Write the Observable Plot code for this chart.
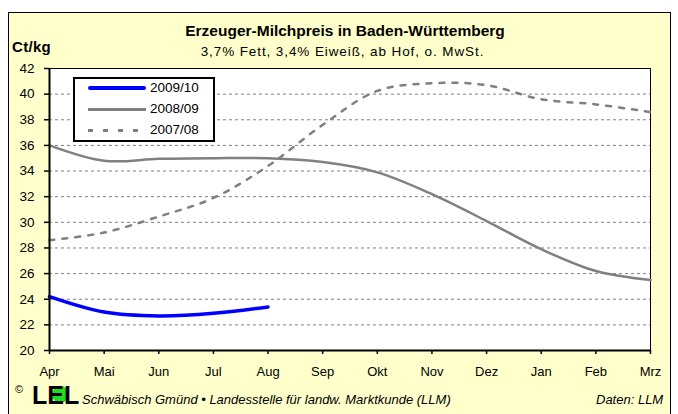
<!DOCTYPE html>
<html><head><meta charset="utf-8">
<script src="https://cdn.jsdelivr.net/npm/d3@7"></script>
<script src="https://cdn.jsdelivr.net/npm/@observablehq/plot@0.6"></script>
<style>
  html,body{margin:0;padding:0;background:#fff;}
  body{width:678px;height:414px;position:relative;overflow:hidden;font-family:"Liberation Sans",Arial,sans-serif;}
  #frame{position:absolute;left:8px;top:12px;width:663px;height:430px;border:1px solid #000;background:#FFFFCC;box-sizing:border-box;}
  #chart{position:absolute;left:0;top:0;}
  .t{position:absolute;white-space:nowrap;color:#000;line-height:1;}
  #title{left:0;width:690px;text-align:center;top:23px;font-weight:bold;font-size:15.5px;}
  #sub{left:0;width:685px;text-align:center;top:45px;font-size:13.5px;letter-spacing:0.9px;}
  #unit{left:12px;top:39px;font-weight:bold;font-size:15px;letter-spacing:0.3px;}
  #legend{position:absolute;left:73px;top:77px;width:142px;height:65px;border:2px solid #000;background:#fff;box-sizing:border-box;}
  .li{position:absolute;left:13px;height:16px;width:130px;}
  .sw{position:absolute;left:0;top:8px;width:58px;height:0;}
  .lb{position:absolute;left:62px;top:0;font-size:13.5px;line-height:16px;}
  #cap{left:82px;top:393px;font-style:italic;font-size:13px;}
  #src{left:596px;top:393px;font-style:italic;font-size:13px;}
  #copy{left:15px;top:384px;font-size:11px;}
  #logo{left:32px;top:382px;font-weight:bold;font-size:25px;line-height:26px;z-index:1;}
  #logo .e{position:relative;display:inline-block;}
  #logo .e::after{content:"";position:absolute;left:5px;top:4px;width:17px;height:17px;border-radius:50%;background:#1fdc1f;z-index:-1;}
</style>
</head><body>
<div id="frame"></div>
<div id="chart"></div>
<div class="t" id="title">Erzeuger-Milchpreis in Baden-Württemberg</div>
<div class="t" id="sub">3,7% Fett, 3,4% Eiweiß, ab Hof, o. MwSt.</div>
<div class="t" id="unit">Ct/kg</div>
<div id="legend"></div>
<div class="t" id="copy">©</div>
<div class="t" id="logo">L<span class="e">E</span>L</div>
<div class="t" id="cap">Schwäbisch Gmünd • Landesstelle für landw. Marktkunde (LLM)</div>
<div class="t" id="src">Daten: LLM</div>
<script>
const months = ["Apr","Mai","Jun","Jul","Aug","Sep","Okt","Nov","Dez","Jan","Feb","Mrz"];
const series = ["2009/10","2008/09","2007/08"];
const p2009 = [24.2, 23.0, 22.7, 22.9, 23.4];
const p2008 = [36.0, 34.8, 34.95, 35.0, 35.0, 34.7, 33.9, 32.2, 30.1, 27.9, 26.2, 25.5];
const p2007 = [28.6, 29.2, 30.45, 31.9, 34.4, 37.6, 40.25, 40.85, 40.7, 39.6, 39.2, 38.6];
const yTicks = [20,22,24,26,28,30,32,34,36,38,40,42];
const gridVals = [22,24,26,28,30,32,34,36,38,40];

const rows = (arr, s) => arr.map((v, i) => ({m: i, v, s}));
const d2009 = rows(p2009, series[0]);
const d2008 = rows(p2008, series[1]);
const d2007 = rows(p2007, series[2]);

const styles = {
  "2009/10": {stroke: "#0000ff", strokeWidth: 3.5, dash: null},
  "2008/09": {stroke: "#808080", strokeWidth: 2.5, dash: null},
  "2007/08": {stroke: "#808080", strokeWidth: 2.5, dash: "5,8"}
};

const chart = Plot.plot({
  width: 678, height: 414,
  marginLeft: 49, marginRight: 28, marginTop: 68, marginBottom: 64,
  x: {domain: [0, 11]},
  y: {domain: [20, 42]},
  style: {background: "transparent", fontFamily: "'Liberation Sans', Arial, sans-serif", fontSize: "13.5px", color: "#000"},
  marks: [
    Plot.frame({fill: "white", stroke: "black", strokeWidth: 1}),
    Plot.ruleY(gridVals, {stroke: "#808080", strokeDasharray: "3,3", strokeWidth: 1}),
    Plot.line(d2008, {x: "m", y: "v", stroke: styles["2008/09"].stroke, strokeWidth: styles["2008/09"].strokeWidth, curve: "catmull-rom"}),
    Plot.line(d2007, {x: "m", y: "v", stroke: styles["2007/08"].stroke, strokeWidth: styles["2007/08"].strokeWidth, strokeDasharray: styles["2007/08"].dash, curve: "catmull-rom"}),
    Plot.line(d2009, {x: "m", y: "v", stroke: styles["2009/10"].stroke, strokeWidth: styles["2009/10"].strokeWidth, curve: "catmull-rom"}),
    Plot.axisY(yTicks, {tickSize: 5, tickPadding: 10, label: null, stroke: "black", strokeWidth: 1.5, fill: "black"}),
    Plot.axisX(d3.range(12), {tickSize: 4, tickPadding: 12, label: null, tickFormat: i => months[i], stroke: "black", strokeWidth: 1.5, fill: "black", fontSize: "13px"}),
    Plot.ruleX([0], {stroke: "black", strokeWidth: 2}),
    Plot.ruleY([20], {stroke: "black", strokeWidth: 2})
  ]
});
document.getElementById("chart").appendChild(chart);

const legend = document.getElementById("legend");
series.forEach((s, k) => {
  const st = styles[s];
  const li = document.createElement("div");
  li.className = "li";
  li.style.top = (1 + k * 21) + "px";
  const sw = document.createElement("div");
  sw.className = "sw";
  sw.style.top = (8 - st.strokeWidth / 2) + "px";
  if (st.dash) {
    sw.style.height = "3px";
    sw.style.background = `repeating-linear-gradient(90deg, ${st.stroke} 0 5px, transparent 5px 15px)`;
  } else {
    sw.style.height = Math.round(st.strokeWidth) + "px";
    sw.style.background = st.stroke;
    if (k === 0) sw.style.borderRadius = "2px";
  }
  const lb = document.createElement("div");
  lb.className = "lb";
  lb.textContent = s;
  li.appendChild(sw); li.appendChild(lb);
  legend.appendChild(li);
});
</script>
</body></html>
